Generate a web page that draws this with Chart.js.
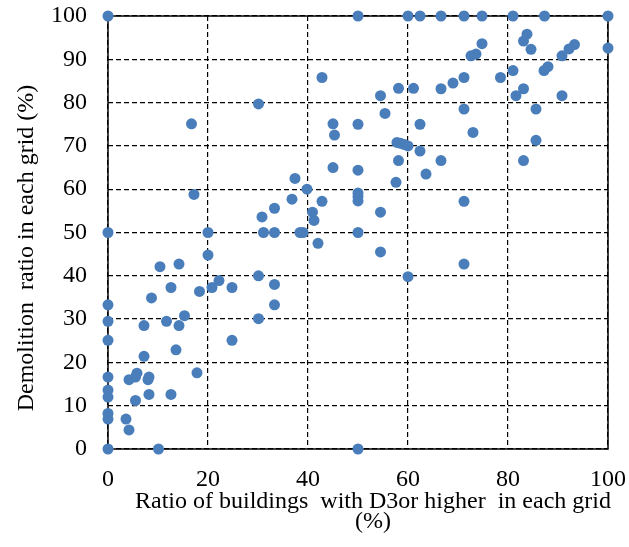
<!DOCTYPE html>
<html>
<head>
<meta charset="utf-8">
<script src="https://cdn.jsdelivr.net/npm/chart.js@4.4.1/dist/chart.umd.min.js"></script>
<style>
  html, body { margin: 0; padding: 0; background: #fff; }
  #wrap { width: 629px; height: 547px; position: relative; }
</style>
</head>
<body>
<div id="wrap"><canvas id="chart"></canvas></div>
<script>
// Share of buildings damaged D3 or worse in each grid cell (%)
const damageRatio = [
  0, 50, 60, 62.4, 66.6, 71.2, 74.8, 81, 87.3, 100,
  83.8, 83.1, 84.6, 74.8, 72.6, 73.6, 93.3, 92.2, 90.8, 100,
  81, 88, 87.2, 78.5, 71.2, 69, 66.6, 61.1, 58.1, 54.5,
  83.1, 81.6, 90.8, 55.4, 71.2, 85.6, 50, 62.4, 73, 85.6,
  57.8, 58.5, 59.3, 60, 62.4, 58.1, 66.6, 83.1, 50, 63.6,
  57.6, 50, 50, 50, 71.2, 54.5, 50, 54.5, 71.2, 60,
  50, 42.8, 30.1, 16.7, 45, 45.3, 45, 37.4, 39.8, 17.2,
  36.8, 42.8, 33.3, 40.9, 41.2, 30.8, 0, 20, 31.1, 33.3,
  38.4, 39, 42, 10.4, 14.2, 30.1, 33.3, 22.2, 20.8, 24.8,
  12.6, 18.3, 8.7, 33.3, 0, 15.3, 30.1, 0, 11.7, 7.2,
  14.2, 24.8, 0, 13.6, 7.2, 17.8, 5.8, 4.2, 5.5, 8.2,
  8, 0, 0, 0, 8.2, 12.6, 5.5, 0, 0, 3.6,
  4.2, 0, 10.1, 20
];

// Share of buildings demolished in the same grid cell (%)
const demolitionRatio = [
  100, 100, 100, 100, 100, 100, 100, 100, 100, 100,
  95.8, 94.2, 92.3, 93.6, 90.8, 91.2, 93.4, 92.4, 90.8, 92.6,
  87.4, 88.3, 87.4, 85.8, 85.8, 84.5, 83.2, 83.3, 83.3, 81.6,
  83.2, 81.6, 81.6, 77.5, 78.5, 78.5, 75, 75, 73.1, 71.3,
  70.8, 70.6, 70.3, 70, 68.8, 66.6, 66.6, 66.6, 64.4, 63.5,
  61.6, 59.1, 58.3, 57.3, 57.2, 54.7, 50, 45.5, 42.7, 39.8,
  0, 85.8, 79.7, 75.1, 75.1, 72.5, 65, 62.5, 60, 58.8,
  57.7, 57.2, 55.6, 54.7, 52.8, 53.6, 50, 50, 50, 50,
  50, 50, 47.5, 42.1, 42.7, 40, 38, 38.9, 37.3, 37.3,
  37.3, 36.4, 34.9, 33.3, 33.3, 30.8, 30.1, 29.5, 29.5, 28.5,
  28.5, 25.1, 25.1, 22.9, 21.4, 17.6, 17.5, 16, 16.6, 16.6,
  16, 16.6, 13.6, 12, 12.6, 12.6, 11.2, 8.2, 6.9, 6.9,
  4.4, 0, 0, 44.8
];

const xTicks = [0, 20, 40, 60, 80, 100];
const yTicks = [0, 10, 20, 30, 40, 50, 60, 70, 80, 90, 100];

const xTitleLines = ['Ratio of buildings  with D3or higher  in each grid', '(%)'];
const yTitle = 'Demolition  ratio in each grid (%)';

const points = damageRatio.map((x, i) => ({ x: x, y: demolitionRatio[i] }));

const serif = '"Liberation Serif", "Times New Roman", serif';

// Keep the plot box where the layout padding puts it: drop the extra room
// the scales reserve for their outermost tick labels.
function noLabelPadding(s) {
  s.paddingTop = 0;
  s.paddingBottom = 0;
  s.paddingLeft = 0;
  s.paddingRight = 0;
}

// Solid frame around the plot area (under the markers) plus the two axis titles
const framePlugin = {
  id: 'frameAndTitles',
  beforeDatasetsDraw(chart) {
    const { ctx, chartArea: a } = chart;
    ctx.save();
    ctx.strokeStyle = '#000';
    ctx.lineWidth = 1.5;
    ctx.strokeRect(a.left, a.top, a.right - a.left, a.bottom - a.top);
    ctx.restore();
  },
  afterDraw(chart) {
    const { ctx } = chart;
    ctx.save();
    ctx.fillStyle = '#000';
    ctx.font = '24px ' + serif;
    ctx.textAlign = 'center';
    ctx.textBaseline = 'alphabetic';
    ctx.fillText(xTitleLines[0], 373, 508);
    ctx.fillText(xTitleLines[1], 373, 528);

    ctx.translate(33, 248);
    ctx.rotate(-Math.PI / 2);
    ctx.fillText(yTitle, 0, 0);
    ctx.restore();
  }
};

new Chart(document.getElementById('chart'), {
  type: 'scatter',
  data: {
    datasets: [{
      data: points,
      backgroundColor: '#4a7ebb',
      borderColor: '#4a7ebb',
      borderWidth: 0,
      pointRadius: 5.5,
      pointHoverRadius: 5.5,
      clip: false
    }]
  },
  options: {
    responsive: true,
    maintainAspectRatio: false,
    animation: false,
    layout: { padding: { top: 16, right: 21, left: 0, bottom: 0 } },
    plugins: { legend: { display: false }, tooltip: { enabled: false } },
    scales: {
      x: {
        type: 'linear',
        min: 0,
        max: 100,
        afterBuildTicks: (s) => { s.ticks = xTicks.map(v => ({ value: v })); },
        afterFit: (s) => { s.height = 98; noLabelPadding(s); },
        ticks: { color: '#000', padding: 16, font: { family: serif, size: 24 } },
        grid: { color: '#000', lineWidth: 1.2, drawTicks: false },
        border: { display: false, dash: [5, 3] }
      },
      y: {
        type: 'linear',
        min: 0,
        max: 100,
        afterBuildTicks: (s) => { s.ticks = yTicks.map(v => ({ value: v })); },
        afterFit: (s) => { s.width = 108; noLabelPadding(s); },
        ticks: { color: '#000', padding: 21, font: { family: serif, size: 24 } },
        grid: { color: '#000', lineWidth: 1.2, drawTicks: false },
        border: { display: false, dash: [5, 3] }
      }
    }
  },
  plugins: [framePlugin]
});
</script>
</body>
</html>
